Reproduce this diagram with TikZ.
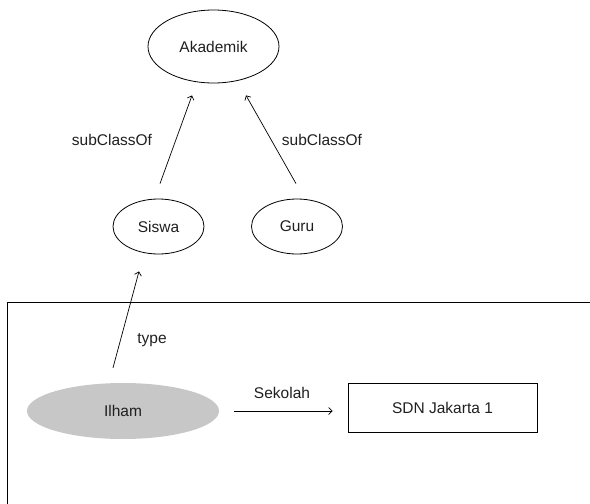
\documentclass[tikz,border=0pt]{standalone}
\usepackage{fontspec}
\setmainfont{Liberation Sans}
\usetikzlibrary{shapes.geometric,arrows.meta}
\begin{document}
\begin{tikzpicture}[x=1pt,y=-1pt,
  every node/.style={font=\fontsize{15.5}{18}\selectfont, text=black!88},
  cls/.style={draw, ellipse, line width=0.8pt, inner sep=0pt},
  inst/.style={ellipse, fill=black!22, inner sep=0pt, minimum width=192pt, minimum height=56pt},
  litbox/.style={draw, rectangle, line width=0.8pt, inner sep=0pt, minimum width=189pt, minimum height=49pt},
  rel/.style={line width=0.7pt, -{Straight Barb[length=3.5pt,width=7pt]}},
  lbl/.style={inner sep=0pt}]
  \useasboundingbox (0,0) rectangle (590,504);

  % class hierarchy
  \node[cls, minimum width=131pt, minimum height=73pt] (ak) at (213.5,46.5) {Akademik};
  \node[cls, minimum width=91pt, minimum height=55pt] (siswa) at (158.5,226.5) {Siswa};
  \node[cls, minimum width=91pt, minimum height=55pt] (guru) at (297,226.5) {Guru};

  \draw[rel] ([shift={(1.5,-15)}]siswa.north) -- ([shift={(-21.5,12)}]ak.south);
  \draw[rel] ([shift={(-1,-15)}]guru.north) -- ([shift={(32.5,12)}]ak.south);
  \node[lbl] (sc1) at (112,140) {subClassOf};
  \node[lbl] (sc2) at (322,140) {subClassOf};

  % instance frame
  \draw[line width=0.8pt] (7,504) -- (7,302) -- (590,302);

  \node[inst] (ilham) at (123,411) {Ilham};
  \node[litbox] (sdn) at (442.5,407.5) {SDN Jakarta 1};

  \draw[rel] ([shift={(-10,-15)}]ilham.north) -- ([shift={(-19.5,17)}]siswa.south);
  \node[lbl] (ty) at (152,340) {type};

  \draw[rel] ([shift={(15,0)}]ilham.east) -- ([shift={(-15,3.5)}]sdn.west);
  \node[lbl] (sk) at (282,393) {Sekolah};
\end{tikzpicture}
\end{document}
